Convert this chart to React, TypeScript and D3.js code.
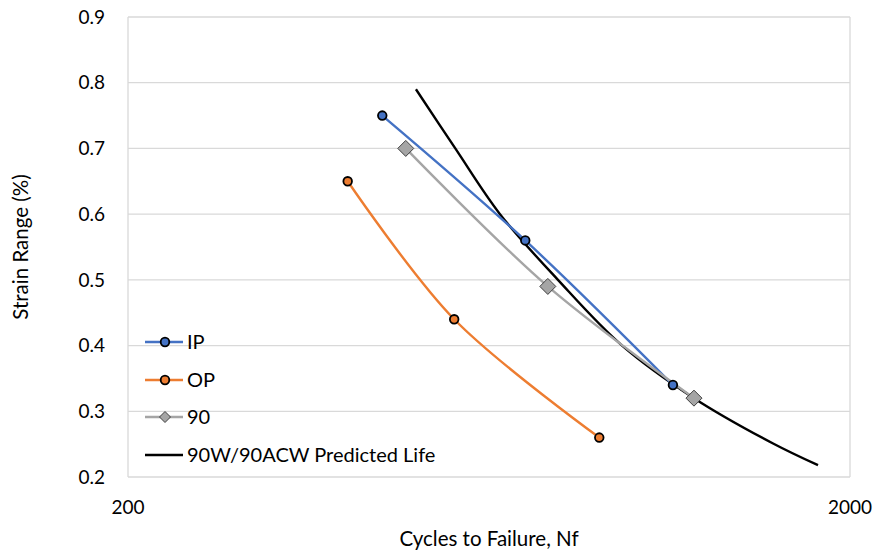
import React, { useEffect, useRef } from "react";
import * as d3 from "d3";

// Fatigue test results: cycles to failure vs. strain range
const ipCycles = [450, 710, 1137];
const ipStrain = [0.75, 0.56, 0.34];

const opCycles = [403, 566, 899];
const opStrain = [0.65, 0.44, 0.26];

const w90Cycles = [485, 763, 1216];
const w90Strain = [0.7, 0.49, 0.32];

// 90W/90ACW predicted life curve
const predCycles = [501, 568, 655, 788, 967, 1216, 1565, 1806];
const predStrain = [0.79, 0.7, 0.6, 0.5, 0.4, 0.32, 0.251, 0.218];

const yTicks = [0.2, 0.3, 0.4, 0.5, 0.6, 0.7, 0.8, 0.9];
const xTicks = [200, 2000];

const legendLabels = ["IP", "OP", "90", "90W/90ACW Predicted Life"];

const WIDTH = 875;
const HEIGHT = 552;
const FONT = "Lato, 'Open Sans', sans-serif";

export default function App() {
  const ref = useRef<SVGSVGElement | null>(null);

  useEffect(() => {
    const svg = d3.select(ref.current);
    svg.selectAll("*").remove();

    const left = 128, right = 850, top = 17, bottom = 477;
    const x = d3.scaleLog().domain([200, 2000]).range([left, right]);
    const y = d3.scaleLinear().domain([0.2, 0.9]).range([bottom, top]);

    const grid = "#d9d9d9";

    // horizontal gridlines
    svg.append("g")
      .selectAll("line")
      .data(yTicks)
      .join("line")
      .attr("x1", left)
      .attr("x2", right)
      .attr("y1", (d) => y(d))
      .attr("y2", (d) => y(d))
      .attr("stroke", grid)
      .attr("stroke-width", 1.3);

    // vertical major gridlines of the log axis
    svg.append("g")
      .selectAll("line")
      .data(xTicks)
      .join("line")
      .attr("x1", (d) => x(d))
      .attr("x2", (d) => x(d))
      .attr("y1", top)
      .attr("y2", bottom)
      .attr("stroke", grid)
      .attr("stroke-width", 1.3);

    // y tick labels
    svg.append("g")
      .selectAll("text")
      .data(yTicks)
      .join("text")
      .attr("x", 105)
      .attr("y", (d) => y(d))
      .attr("dy", "0.35em")
      .attr("text-anchor", "end")
      .attr("font-family", FONT)
      .attr("font-size", 19)
      .attr("fill", "#000")
      .text((d) => d.toFixed(1));

    // x tick labels
    svg.append("g")
      .selectAll("text")
      .data(xTicks)
      .join("text")
      .attr("x", (d) => x(d))
      .attr("y", 514)
      .attr("text-anchor", "middle")
      .attr("font-family", FONT)
      .attr("font-size", 19)
      .attr("fill", "#000")
      .text((d) => String(d));

    // axis titles
    svg.append("text")
      .attr("x", (left + right) / 2)
      .attr("y", 546)
      .attr("text-anchor", "middle")
      .attr("font-family", FONT)
      .attr("font-size", 20.5)
      .attr("fill", "#000")
      .text("Cycles to Failure, Nf");

    svg.append("text")
      .attr("transform", `translate(28,${(top + bottom) / 2}) rotate(-90)`)
      .attr("text-anchor", "middle")
      .attr("font-family", FONT)
      .attr("font-size", 20.5)
      .attr("fill", "#000")
      .text("Strain Range (%)");

    const smooth = d3
      .line<[number, number]>()
      .x((d) => x(d[0]))
      .y((d) => y(d[1]))
      .curve(d3.curveCatmullRom.alpha(0.5));

    const zip = (a: number[], b: number[]) =>
      a.map((v, i) => [v, b[i]] as [number, number]);

    const series = [
      { pts: zip(ipCycles, ipStrain), color: "#4472c4", marker: "circle", fill: "#4472c4" },
      { pts: zip(opCycles, opStrain), color: "#ed7d31", marker: "circle", fill: "#ed7d31" },
      { pts: zip(w90Cycles, w90Strain), color: "#a5a5a5", marker: "diamond", fill: "#a5a5a5" },
    ];

    // predicted curve
    svg.append("path")
      .datum(zip(predCycles, predStrain))
      .attr("d", smooth)
      .attr("fill", "none")
      .attr("stroke", "#000")
      .attr("stroke-width", 2.4);

    series.forEach((s) => {
      svg.append("path")
        .datum(s.pts)
        .attr("d", smooth)
        .attr("fill", "none")
        .attr("stroke", s.color)
        .attr("stroke-width", 2.4);
    });

    const drawMarker = (
      g: d3.Selection<SVGGElement, unknown, null, undefined>,
      cx: number,
      cy: number,
      kind: string,
      fill: string
    ) => {
      if (kind === "circle") {
        g.append("circle")
          .attr("cx", cx)
          .attr("cy", cy)
          .attr("r", 4.3)
          .attr("fill", fill)
          .attr("stroke", "#000")
          .attr("stroke-width", 1.8);
      } else {
        const r = 8;
        g.append("path")
          .attr("d", `M${cx},${cy - r}L${cx + r},${cy}L${cx},${cy + r}L${cx - r},${cy}Z`)
          .attr("fill", fill)
          .attr("stroke", "#404040")
          .attr("stroke-width", 1);
      }
    };

    const markers = svg.append("g") as d3.Selection<SVGGElement, unknown, null, undefined>;
    series.forEach((s) => {
      s.pts.forEach((p) => drawMarker(markers, x(p[0]), y(p[1]), s.marker, s.fill));
    });

    // legend
    const legend = svg.append("g") as d3.Selection<SVGGElement, unknown, null, undefined>;
    const legendY = [342, 380, 417, 455];
    const legendColors = ["#4472c4", "#ed7d31", "#a5a5a5", "#000"];
    const legendMarkers = ["circle", "circle", "diamond", "none"];
    legendLabels.forEach((label, i) => {
      const ly = legendY[i];
      legend.append("line")
        .attr("x1", 145)
        .attr("x2", 183)
        .attr("y1", ly)
        .attr("y2", ly)
        .attr("stroke", legendColors[i])
        .attr("stroke-width", 2.4);
      if (legendMarkers[i] === "circle") {
        drawMarker(legend, 165, ly, "circle", legendColors[i]);
      } else if (legendMarkers[i] === "diamond") {
        legend.append("path")
          .attr("d", `M165,${ly - 5.5}L170.5,${ly}L165,${ly + 5.5}L159.5,${ly}Z`)
          .attr("fill", "#a5a5a5")
          .attr("stroke", "#404040")
          .attr("stroke-width", 1);
      }
      legend.append("text")
        .attr("x", 187)
        .attr("y", ly)
        .attr("dy", "0.35em")
        .attr("font-family", FONT)
        .attr("font-size", 20)
        .attr("fill", "#000")
        .text(label);
    });
  }, []);

  return (
    <svg
      ref={ref}
      width={WIDTH}
      height={HEIGHT}
      style={{ position: "absolute", left: 0, top: 0, background: "#fff" }}
    />
  );
}
